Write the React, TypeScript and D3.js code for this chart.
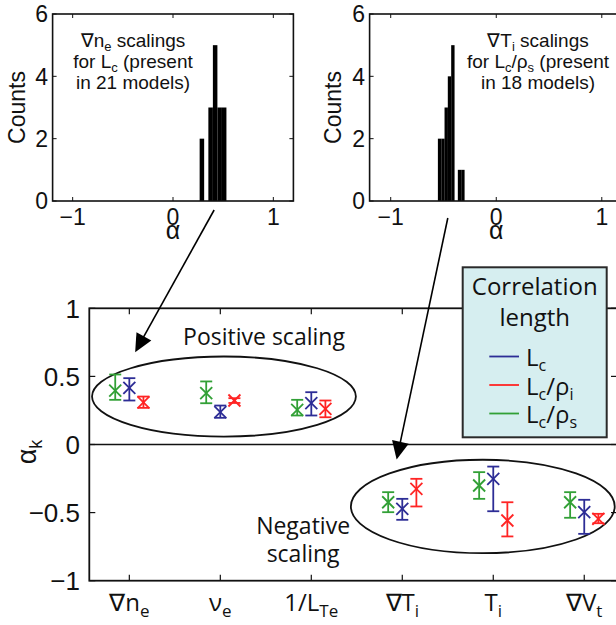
import React from 'react';
import * as d3 from 'd3';

// ---------- data ----------
const categoryMain = ['∇n', 'ν', '1/L', '∇T', 'T', '∇V'];
const categorySub = ['e', 'e', 'Te', 'i', 'i', 't'];

const seriesLabels = ['L_c', 'L_c/ρ_i', 'L_c/ρ_s'];
const seriesColors = ['#2d2d96', '#ff2424', '#32a036'];
const seriesOffsets = [0, 0.155, -0.155];

// Lc (blue)
const lcValue = [0.416, 0.237, 0.303, -0.472, -0.252, -0.497];
const lcLow = [0.323, 0.196, 0.213, -0.553, -0.49, -0.656];
const lcHigh = [0.487, 0.286, 0.384, -0.399, -0.162, -0.406];
// Lc/rho_i (red)
const lciValue = [0.31, 0.323, 0.262, -0.325, -0.558, -0.546];
const lciLow = [0.269, 0.305, 0.2, -0.455, -0.675, -0.578];
const lciHigh = [0.352, 0.34, 0.323, -0.252, -0.424, -0.509];
// Lc/rho_s (green)
const lcsValue = [0.396, 0.377, 0.255, -0.424, -0.301, -0.424];
const lcsLow = [0.328, 0.303, 0.213, -0.497, -0.399, -0.538];
const lcsHigh = [0.514, 0.463, 0.328, -0.35, -0.203, -0.35];

const mainYTicks = [-1, -0.5, 0, 0.5, 1];

// histograms
const hist1Centers = [0.288, 0.375, 0.42, 0.465, 0.51];
const hist1Counts = [2, 3, 5, 3, 3];
const hist1Width = 0.045;
const hist2Centers = [-0.537, -0.505, -0.474, -0.443, -0.411, -0.348, -0.316];
const hist2Counts = [2, 2, 3, 4, 5, 1, 1];
const hist2Width = 0.032;
const histXTicks = [-1, 0, 1];
const histYTicks = [0, 2, 4, 6];

// ---------- helpers ----------
const helv = "'Liberation Sans', Arial, Helvetica, sans-serif";
const myriad = "'Open Sans', 'Noto Sans', sans-serif";

type Seg = { t: string; sub?: boolean };
function parseLabel(s: string): Seg[] {
  // "_x" marks a subscript run of following letters until '/' or space
  const segs: Seg[] = [];
  let i = 0;
  let cur = '';
  while (i < s.length) {
    if (s[i] === '_') {
      if (cur) segs.push({ t: cur });
      cur = '';
      i++;
      let sub = '';
      while (i < s.length && s[i] !== '/' && s[i] !== ' ') {
        sub += s[i];
        i++;
      }
      segs.push({ t: sub, sub: true });
    } else {
      cur += s[i];
      i++;
    }
  }
  if (cur) segs.push({ t: cur });
  return segs;
}

function Rich({ segs, subSize, shift }: { segs: Seg[]; subSize: number; shift: number }) {
  let inSub = false;
  return (
    <>
      {segs.map((sg, k) => {
        let dy = 0;
        if (sg.sub && !inSub) dy = shift;
        if (!sg.sub && inSub) dy = -shift;
        inSub = !!sg.sub;
        return (
          <tspan key={k} dy={dy || undefined} fontSize={sg.sub ? subSize : undefined}>
            {sg.t}
          </tspan>
        );
      })}
    </>
  );
}

function Arrow({ x1, y1, x2, y2 }: { x1: number; y1: number; x2: number; y2: number }) {
  const len = Math.hypot(x2 - x1, y2 - y1);
  const ux = (x2 - x1) / len;
  const uy = (y2 - y1) / len;
  const hl = 18;
  const hw = 8.5;
  const bx = x2 - ux * hl;
  const by = y2 - uy * hl;
  const px = -uy;
  const py = ux;
  return (
    <g>
      <line x1={x1} y1={y1} x2={bx + ux * 2} y2={by + uy * 2} stroke="#000" strokeWidth={1.6} />
      <path
        d={`M${x2},${y2} L${bx + px * hw},${by + py * hw} L${bx - px * hw},${by - py * hw} Z`}
        fill="#000"
      />
    </g>
  );
}

function Histogram({
  x,
  y,
  centers,
  counts,
  width,
  lines,
  textX,
  yLabelX,
  tickLabelRight,
}: {
  x: d3.ScaleLinear<number, number>;
  y: d3.ScaleLinear<number, number>;
  centers: number[];
  counts: number[];
  width: number;
  lines: string[];
  textX: number;
  yLabelX: number;
  tickLabelRight: number;
}) {
  const [x0, x1] = x.range();
  const [y0, y1] = y.range();
  const tl = 4;
  return (
    <g>
      {centers.map((c, i) => (
        <rect
          key={i}
          x={x(c - width / 2)}
          width={x(c + width / 2) - x(c - width / 2)}
          y={y(counts[i])}
          height={y(0) - y(counts[i])}
          fill="#000"
        />
      ))}
      <rect x={x0} y={y1} width={x1 - x0} height={y0 - y1} fill="none" stroke="#111" strokeWidth={1.6} />
      {histXTicks.map((t) => (
        <g key={'x' + t}>
          <line x1={x(t)} x2={x(t)} y1={y0} y2={y0 - tl} stroke="#111" strokeWidth={1} />
          <line x1={x(t)} x2={x(t)} y1={y1} y2={y1 + tl} stroke="#111" strokeWidth={1} />
          <text x={x(t)} y={y0 + 24} textAnchor="middle" fontFamily={helv} fontSize={23} fill="#111">
            {t < 0 ? '−' + Math.abs(t) : String(t)}
          </text>
        </g>
      ))}
      {histYTicks.map((t) => (
        <g key={'y' + t}>
          <line x1={x0} x2={x0 + tl} y1={y(t)} y2={y(t)} stroke="#111" strokeWidth={1} />
          <line x1={x1} x2={x1 - tl} y1={y(t)} y2={y(t)} stroke="#111" strokeWidth={1} />
          <text x={tickLabelRight} y={y(t)} dy="0.36em" textAnchor="end" fontFamily={helv} fontSize={23} fill="#111">
            {t}
          </text>
        </g>
      ))}
      <text x={x(0)} y={y0 + 38} textAnchor="middle" fontFamily={helv} fontSize={25} fill="#111">
        α
      </text>
      <text
        transform={`translate(${yLabelX},${(y0 + y1) / 2}) rotate(-90)`}
        textAnchor="middle"
        fontFamily={helv}
        fontSize={23}
        fill="#111"
      >
        Counts
      </text>
      {lines.map((ln, i) => (
        <text key={i} x={textX} y={47 + i * 21} textAnchor="middle" fontFamily={helv} fontSize={19} fill="#111">
          <Rich segs={parseLabel(ln)} subSize={13} shift={4} />
        </text>
      ))}
    </g>
  );
}

export default function App() {
  const W = 616;
  const H = 625;

  // histogram scales
  const h1x = d3.scaleLinear().domain([-1.2, 1.2]).range([52.6, 293.4]);
  const h2x = d3.scaleLinear().domain([-1.2, 1.2]).range([369.6, 622.9]);
  const hy = d3.scaleLinear().domain([0, 6]).range([201, 14]);

  // main plot scales
  const mx = d3.scaleLinear().domain([-0.44, 5.36]).range([89.3, 617]);
  const my = d3.scaleLinear().domain([-1, 1]).range([580.7, 308.3]);

  const values = [lcValue, lciValue, lcsValue];
  const lows = [lcLow, lciLow, lcsLow];
  const highs = [lcHigh, lciHigh, lcsHigh];

  const cap = 6;
  const ms = 6;
  const tl = 6;
  const [px0, px1] = mx.range();
  const [py0, py1] = my.range();

  // draw order: green, blue, red
  const order = [2, 0, 1];

  return (
    <svg
      width={W}
      height={H}
      viewBox={`0 0 ${W} ${H}`}
      style={{ position: 'absolute', left: 0, top: 0, background: '#fff' }}
    >
      <rect x={0} y={0} width={W} height={H} fill="#fff" />
      <Histogram
        x={h1x}
        y={hy}
        centers={hist1Centers}
        counts={hist1Counts}
        width={hist1Width}
        lines={['∇n_e scalings', 'for L_c (present', 'in 21 models)']}
        textX={133}
        yLabelX={25}
        tickLabelRight={48}
      />
      <Histogram
        x={h2x}
        y={hy}
        centers={hist2Centers}
        counts={hist2Counts}
        width={hist2Width}
        lines={['∇T_i scalings', 'for L_c/ρ_s (present', 'in 18 models)']}
        textX={538}
        yLabelX={341}
        tickLabelRight={365}
      />

      {/* main plot frame */}
      <rect x={px0} y={py1} width={px1 - px0} height={py0 - py1} fill="none" stroke="#111" strokeWidth={1.8} />
      <line x1={px0} x2={px1} y1={my(0)} y2={my(0)} stroke="#111" strokeWidth={1.6} />
      {categoryMain.map((c, i) => (
        <g key={'c' + i}>
          <line x1={mx(i)} x2={mx(i)} y1={py0} y2={py0 - tl} stroke="#111" strokeWidth={1.2} />
          <line x1={mx(i)} x2={mx(i)} y1={py1} y2={py1 + tl} stroke="#111" strokeWidth={1.2} />
          <text x={mx(i)} y={611} textAnchor="middle" fontFamily={myriad} fontSize={24} fill="#111">
            <tspan>{c}</tspan>
            <tspan dy={6} fontSize={17}>
              {categorySub[i]}
            </tspan>
          </text>
        </g>
      ))}
      {mainYTicks.map((t) => (
        <g key={'t' + t}>
          <line x1={px0} x2={px0 + tl} y1={my(t)} y2={my(t)} stroke="#111" strokeWidth={1.2} />
          <line x1={px1} x2={px1 - tl} y1={my(t)} y2={my(t)} stroke="#111" strokeWidth={1.2} />
          <text x={80} y={my(t)} dy="0.36em" textAnchor="end" fontFamily={helv} fontSize={26} fill="#111">
            {t < 0 ? '−' + Math.abs(t) : String(t)}
          </text>
        </g>
      ))}
      <text transform={`translate(36,452) rotate(-90)`} textAnchor="middle" fontFamily={helv} fontSize={27} fill="#111">
        <tspan>α</tspan>
        <tspan dy={6} fontSize={18}>
          k
        </tspan>
      </text>

      {/* ellipses */}
      <ellipse
        cx={mx(1.04)}
        cy={my(0.352)}
        rx={mx(1.45) - mx(0)}
        ry={my(0) - my(0.294)}
        fill="none"
        stroke="#111"
        strokeWidth={1.8}
      />
      <ellipse
        cx={mx(3.885)}
        cy={my(-0.455)}
        rx={mx(1.45) - mx(0)}
        ry={my(0) - my(0.343)}
        fill="none"
        stroke="#111"
        strokeWidth={1.8}
      />

      {/* error bars */}
      {order.map((s) => (
        <g key={'s' + s} stroke={seriesColors[s]} strokeWidth={1.8} fill="none">
          {values[s].map((v, i) => {
            const cx = mx(i + seriesOffsets[s]);
            const cy = my(v);
            const yl = my(lows[s][i]);
            const yh = my(highs[s][i]);
            return (
              <g key={i}>
                <line x1={cx} x2={cx} y1={yl} y2={yh} />
                <line x1={cx - cap} x2={cx + cap} y1={yl} y2={yl} />
                <line x1={cx - cap} x2={cx + cap} y1={yh} y2={yh} />
                <line x1={cx - ms} x2={cx + ms} y1={cy - ms} y2={cy + ms} />
                <line x1={cx - ms} x2={cx + ms} y1={cy + ms} y2={cy - ms} />
              </g>
            );
          })}
        </g>
      ))}

      {/* annotations */}
      <text x={mx(1.48)} y={my(0.727)} textAnchor="middle" fontFamily={myriad} fontSize={23} fill="#111">
        Positive scaling
      </text>
      <text x={mx(1.91)} y={my(-0.656)} textAnchor="middle" fontFamily={myriad} fontSize={23} fill="#111">
        Negative
      </text>
      <text x={mx(1.91)} y={my(-0.86)} textAnchor="middle" fontFamily={myriad} fontSize={23} fill="#111">
        scaling
      </text>

      <Arrow x1={h1x(0.41)} y1={hy(0) + 9} x2={mx(0.064)} y2={my(0.678)} />
      <Arrow x1={h2x(-0.459)} y1={hy(0) + 17} x2={mx(2.938)} y2={my(-0.11)} />

      {/* legend */}
      <g>
        <rect x={462.7} y={267.3} width={144} height={170} fill="#d6eef0" stroke="#2a2a2a" strokeWidth={2} />
        <text x={534.7} y={295} textAnchor="middle" fontFamily={myriad} fontSize={24} fill="#111">
          Correlation
        </text>
        <text x={534.7} y={326} textAnchor="middle" fontFamily={myriad} fontSize={24} fill="#111">
          length
        </text>
        {seriesLabels.map((lab, i) => (
          <g key={lab}>
            <line x1={489.3} x2={519} y1={356.5 + i * 28.5} y2={356.5 + i * 28.5} stroke={seriesColors[i]} strokeWidth={1.8} />
            <text x={526} y={366 + i * 28.5} fontFamily={myriad} fontSize={24} fill="#111">
              <Rich segs={parseLabel(lab)} subSize={16} shift={5} />
            </text>
          </g>
        ))}
      </g>
    </svg>
  );
}
